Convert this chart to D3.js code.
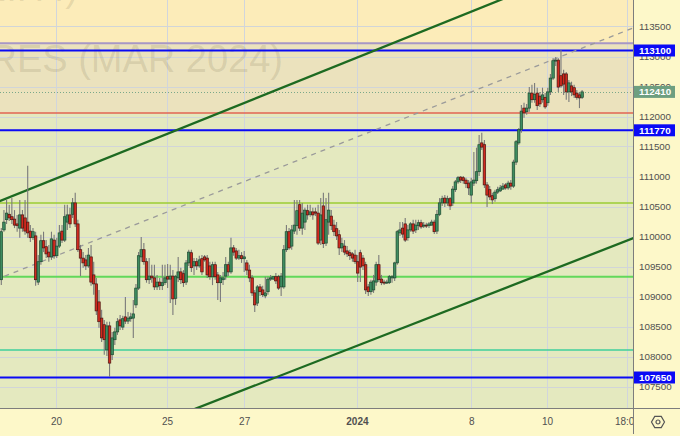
<!DOCTYPE html>
<html><head><meta charset="utf-8">
<script src="https://cdn.jsdelivr.net/npm/d3@7/dist/d3.min.js"></script>
<style>html,body{margin:0;padding:0;background:#fdf8c9;}svg{display:block}</style>
</head><body><svg id="c" width="680" height="436"></svg>
<script>
// ---- data (hourly candles) ----
const opens=[109280,110110,110280,110370,110330,110290,110210,110140,110360,110310,
110240,110090,109980,110010,109240,109580,109930,109830,109740,109660,
109940,109680,109840,110090,109940,110240,110360,110370,110560,110210,
109780,109640,109610,109510,109660,109360,109210,108910,108640,108530,
108110,108510,108030,108280,108410,108610,108490,108660,108590,108630,
108640,108860,109140,109660,109780,109580,109280,109340,109310,109160,
109240,109180,109230,109330,109290,109340,108970,109310,109410,109380,
109240,109560,109730,109510,109580,109510,109630,109660,109640,109510,
109330,109530,109360,109230,109280,109340,109530,109410,109810,109760,
109640,109680,109630,109560,109440,109310,109060,108890,109160,109110,
109010,109080,109290,109290,109330,109330,109160,109160,109780,110080,
109840,110090,110180,110530,110140,110240,110430,110370,110410,110410,
110390,109940,110510,109890,110240,110340,110190,110130,110030,109810,
109840,109760,109730,109710,109690,109580,109730,109640,109530,109160,
109080,109110,109240,109530,109290,109240,109230,109230,109310,109310,
109560,110060,110140,110210,109980,110110,110210,110110,110180,110230,
110180,110190,110180,110190,110240,110090,110370,110560,110640,110560,
110630,110560,110780,110910,110990,110980,110940,110890,110690,110890,
110930,111080,111560,111530,110860,110780,110680,110630,110740,110760,
110790,110860,110810,110890,110840,111240,111560,111780,112140,112080,
112140,112390,112280,112390,112340,112280,112320,112230,112410,112640,
112930,112940,112680,112710,112710,112410,112510,112480,112390,112360,112320];
const highs=[110140,110440,110610,110530,110640,110440,110360,110610,110440,110610,
111180,110190,110140,110080,109690,110030,110080,109940,109860,110080,
110030,109980,110190,110190,110530,110530,110480,110640,110730,110280,
109860,109740,109690,109810,109860,109580,109310,109110,108780,108610,
108580,108580,108410,108480,108640,108690,108680,108990,108740,108730,
108940,109210,109740,109990,109890,109640,109640,109530,109530,109360,
109310,109530,109530,109540,109530,109440,109360,109660,109480,109440,
109610,109780,109780,109640,109640,109680,109690,109690,109690,109580,
109580,109580,109410,109360,109410,109660,109580,109980,109860,109810,
109780,109740,109760,109610,109530,109360,109110,109190,109210,109180,
109330,109330,109360,109340,109390,109360,109390,109860,110190,110140,
110190,110610,110610,110610,110560,110480,110530,110530,110480,110480,
110530,110640,110730,110640,110730,110440,110280,110240,110110,109980,
109940,109840,109780,109740,109780,109690,109780,109690,109580,109210,
109280,109360,109580,109690,109360,109280,109280,109360,109360,109580,
110110,110240,110240,110310,110190,110240,110280,110280,110280,110280,
110240,110230,110240,110280,110280,110440,110640,110680,110690,110680,
110660,110840,110940,111010,111010,111010,110980,110940,110980,111410,
111480,111690,111730,111610,110910,110840,110730,110780,110830,110860,
110890,110890,110930,110940,111280,111610,111810,112190,112230,112210,
112490,112530,112560,112480,112410,112480,112390,112480,112710,112970,
112990,112970,113110,112780,112740,112610,112580,112530,112440,112410,112440];
const lows=[109190,110080,110210,110260,110210,110140,110080,109980,110080,110030,
109980,109910,109940,109180,109190,109530,109740,109640,109580,109610,
109630,109640,109810,109890,109910,110110,110140,110310,110160,109740,
109340,109480,109440,109480,109180,109030,108690,108480,108240,108030,
108010,107660,107940,108190,108360,108440,108440,108540,108540,108580,
108310,108810,109110,109580,109530,109230,109210,109230,109110,109110,
109110,109110,109190,109140,108890,108690,108860,109240,109210,109160,
109190,109510,109410,109360,109440,109480,109360,109580,109310,109280,
109190,109280,108940,108910,109190,109280,109340,109380,109680,109610,
109610,109560,109410,109360,109240,109010,108740,108840,109010,108990,
108970,109030,109260,109280,109210,109110,109010,109130,109740,109780,
109780,110040,110030,110090,110030,110110,110280,110330,110280,110340,
109860,109860,109810,109840,110030,110110,110010,109940,109690,109740,
109690,109660,109610,109580,109540,109240,109240,109440,109040,109010,
109030,109060,109180,109240,109190,109190,109210,109210,109230,109260,
109530,110010,109980,109910,109930,110080,110040,110060,110110,110130,
110140,110140,110140,110180,110040,110040,110340,110510,110490,110510,
110440,110510,110740,110880,110890,110880,110810,110690,110560,110840,
110880,111010,111440,110810,110490,110610,110540,110580,110710,110740,
110780,110780,110780,110780,110810,111190,111530,111730,111980,112030,
112080,112230,112230,112110,112160,112230,112130,112180,112360,112610,
112840,112410,112480,112360,112280,112240,112340,112310,112280,112140,112290];
const closes=[110080,110240,110390,110310,110280,110190,110180,110360,110140,110090,
110060,109980,110080,109280,109580,109930,109810,109710,109660,109960,
109680,109840,110060,109940,110330,110360,110210,110560,110210,109780,
109640,109560,109510,109690,109240,109210,108760,108580,108310,108280,
108510,107890,108310,108410,108580,108510,108630,108590,108640,108660,
108710,109140,109680,109780,109580,109280,109340,109310,109160,109240,
109180,109230,109310,109290,109340,108960,109330,109410,109280,109230,
109560,109740,109480,109580,109510,109610,109410,109610,109360,109330,
109530,109330,109230,109310,109310,109530,109410,109810,109740,109640,
109680,109630,109660,109440,109310,109060,108860,109160,109080,109030,
109060,109290,109310,109330,109260,109140,109340,109780,110080,109810,
110110,110190,110430,110140,110390,110440,110360,110410,110360,110390,
109890,110360,109880,110280,110440,110180,110080,110010,109810,109880,
109740,109710,109680,109640,109580,109390,109490,109510,109110,109080,
109240,109260,109530,109280,109230,109230,109240,109330,109330,109560,
110080,110110,110040,109940,110110,110210,110090,110190,110230,110160,
110190,110180,110210,110240,110080,110370,110560,110630,110560,110630,
110510,110790,110910,110980,110940,110930,110880,110810,110910,110940,
111080,111530,111490,110860,110690,110660,110610,110740,110780,110810,
110840,110810,110890,110840,111240,111580,111780,112090,112060,112140,
112390,112280,112370,112180,112210,112360,112160,112410,112640,112930,
112940,112490,112510,112540,112410,112560,112410,112360,112320,112310,112410];

const yTicks=[107500,108000,108500,109000,109500,110000,110500,111000,111500,112000,112500,113000,113500];
const xTickPos=[20.7,62.8,92,134.7,178,206.7,237];   // candle index of each date label
const xTickLabels=["20","25","27","2024","8","10","18:00"];
const levelValues=[113220,113100,112060,111770,110560,109330,108110,107650];
const badgeValues=[113100,111770,107650];
const lastPrice=112410;
const bandEdges=[113220,112060];
const trendUpper=[[0,110600],[220,114490]];
const trendLower=[[0,105870],[220,109640]];
const trendMid=[[0,109317],[220,113140]];
const watermark=["RTS INDEX FUTURES (RIH4)","FUTURES (MAR 2024)"];

// ---- layout ----
const W=680,H=436,PW=633,PH=408;
const svg=d3.select("#c");
const x=d3.scaleLinear().domain([0,220]).range([1.3,582.1]);
const y=d3.scaleLinear().domain([107000,114000]).range([416.5,-3.5]);

svg.append("rect").attr("width",W).attr("height",H).attr("fill","#fdf8c9");
const defs=svg.append("defs");
defs.append("clipPath").attr("id","pc").append("rect").attr("width",PW).attr("height",PH);
defs.append("clipPath").attr("id","xc").append("rect").attr("width",PW).attr("height",H);
const g=svg.append("g").attr("clip-path","url(#pc)");

// background bands
const bands=[[114500,bandEdges[0],"#fcecb9"],[bandEdges[0],bandEdges[1],"#ebe2bd"],[bandEdges[1],106000,"#e4e9bf"]];
g.selectAll("rect.band").data(bands).join("rect").attr("class","band")
 .attr("x",0).attr("width",PW).attr("y",d=>y(d[0])).attr("height",d=>y(d[1])-y(d[0])).attr("fill",d=>d[2]);

// grid
g.selectAll("line.hg").data(yTicks).join("line").attr("class","hg")
 .attr("x1",0).attr("x2",PW).attr("y1",d=>Math.round(y(d))+0.5).attr("y2",d=>Math.round(y(d))+0.5)
 .attr("stroke","#d1d5d8").attr("stroke-width",1);
g.selectAll("line.vg").data(xTickPos).join("line").attr("class","vg")
 .attr("y1",0).attr("y2",PH).attr("x1",d=>Math.round(x(d))+0.5).attr("x2",d=>Math.round(x(d))+0.5)
 .attr("stroke","#d1d5dc").attr("stroke-width",1);

// watermark
g.append("text").attr("x",78).attr("y",1).attr("text-anchor","end")
 .attr("font-family","Liberation Sans, Arial, sans-serif").attr("font-size",38)
 .attr("fill","rgba(90,80,50,0.14)").text(watermark[0]);
g.append("text").attr("x",283).attr("y",72).attr("text-anchor","end")
 .attr("font-family","Liberation Sans, Arial, sans-serif").attr("font-size",38)
 .attr("fill","rgba(90,80,50,0.14)").text(watermark[1]);

// horizontal levels
const levelStyle=[["#a797c6",2],["#0a0af5",2],["#e26452",1.5],["#0a0af5",2],["#9dcc35",1.5],["#62d85a",2],["#3fcf9c",1.5],["#0a0af5",2]];
g.selectAll("line.lv").data(levelValues).join("line").attr("class","lv")
 .attr("x1",0).attr("x2",PW).attr("y1",d=>y(d)).attr("y2",d=>y(d))
 .attr("stroke",(d,i)=>levelStyle[i][0]).attr("stroke-width",(d,i)=>levelStyle[i][1]);
// last price dotted
g.append("line").attr("x1",0).attr("x2",PW).attr("y1",Math.round(y(lastPrice))+0.5).attr("y2",Math.round(y(lastPrice))+0.5)
 .attr("stroke","#7aa88a").attr("stroke-width",1).attr("stroke-dasharray","1,2");

// trend lines
function extLine(p){const s=(p[1][1]-p[0][1])/(p[1][0]-p[0][0]);const a=-20,b=260;return [[a,p[0][1]+s*(a-p[0][0])],[b,p[0][1]+s*(b-p[0][0])]];}
const tl=[[trendMid,"#9a9a9a",1.3,"5,5"],[trendUpper,"#1d6a21",2.3,null],[trendLower,"#1d6a21",2.3,null]];
tl.forEach(t=>{const e=extLine(t[0]);g.append("line").attr("x1",x(e[0][0])).attr("y1",y(e[0][1])).attr("x2",x(e[1][0])).attr("y2",y(e[1][1]))
 .attr("stroke",t[1]).attr("stroke-width",t[2]).attr("stroke-dasharray",t[3]);});

// candles
const n=Math.min(opens.length,highs.length,lows.length,closes.length);
const idx=d3.range(n);
const cg=g.append("g");
cg.selectAll("line.wk").data(idx).join("line").attr("class","wk")
 .attr("x1",i=>x(i)).attr("x2",i=>x(i)).attr("y1",i=>y(highs[i])).attr("y2",i=>y(lows[i]))
 .attr("stroke","#7a7a7a").attr("stroke-width",1.1);
const up="#3e8c60",dn="#d02a1f";
cg.selectAll("rect.bd").data(idx).join("rect").attr("class","bd")
 .attr("x",i=>x(i)-1.25).attr("width",2.5)
 .attr("y",i=>y(Math.max(opens[i],closes[i])))
 .attr("height",i=>Math.max(1,Math.abs(y(opens[i])-y(closes[i]))))
 .attr("fill",i=>closes[i]>=opens[i]?up:dn)
 .attr("stroke",i=>closes[i]>=opens[i]?"#1d4a30":"#4a1510").attr("stroke-width",0.7);

// axes borders
svg.append("line").attr("x1",PW+0.5).attr("x2",PW+0.5).attr("y1",0).attr("y2",434).attr("stroke","#7d7d7d");
svg.append("line").attr("x1",0).attr("x2",W).attr("y1",PH+0.5).attr("y2",PH+0.5).attr("stroke","#7d7d7d");

// y axis
const ya=svg.append("g").attr("transform",`translate(${PW},0)`)
 .call(d3.axisRight(y).tickValues(yTicks).tickSize(0).tickPadding(6).tickFormat(d3.format("d")));
ya.select(".domain").remove();
ya.selectAll("text").attr("font-family","Liberation Sans, Arial, sans-serif").attr("font-size",9.8).attr("fill","#505050");

// x axis
const xa=svg.append("g").attr("transform",`translate(0,${PH})`).attr("clip-path","url(#xc)")
 .call(d3.axisBottom(x).tickValues(xTickPos).tickSize(0).tickPadding(9.5).tickFormat((d,i)=>xTickLabels[i]));
xa.select(".domain").remove();
xa.selectAll("text").attr("font-family","Liberation Sans, Arial, sans-serif").attr("font-size",10).attr("fill","#505050")
 .attr("font-weight",(d,i)=>xTickLabels[i]==="2024"?"bold":"normal");

// badges
const bd=svg.append("g");
const allBadges=badgeValues.map(v=>[v,"#0a0af5"]).concat([[lastPrice,"#6e9f80"]]);
allBadges.forEach(b=>{const cy=y(b[0]);
 bd.append("rect").attr("x",PW+1).attr("y",cy-6).attr("width",41).attr("height",12).attr("fill",b[1]);
 bd.append("text").attr("x",PW+6).attr("y",cy+3.5).attr("font-family","Liberation Sans, Arial, sans-serif")
  .attr("font-size",9.8).attr("font-weight","bold").attr("fill","#fff").text(d3.format("d")(b[0]));});

// settings icon
const ic=svg.append("g").attr("transform","translate(658,422)");
ic.append("path").attr("d",d3.range(6).map((k,j)=>{const a=Math.PI/3*k;return (j?"L":"M")+(6.5*Math.cos(a)).toFixed(2)+","+(6.5*Math.sin(a)).toFixed(2);}).join("")+"Z")
 .attr("fill","none").attr("stroke","#555").attr("stroke-width",1.2);
ic.append("circle").attr("r",2).attr("fill","none").attr("stroke","#555").attr("stroke-width",1.2);
</script></body></html>
